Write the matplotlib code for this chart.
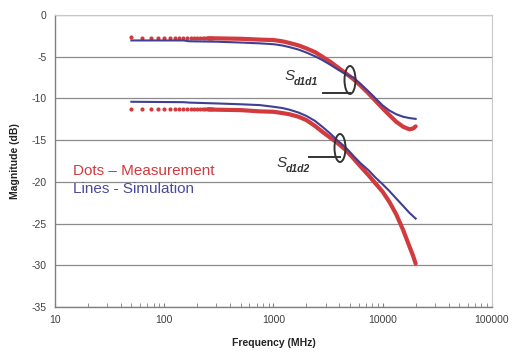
import numpy as np
import matplotlib
matplotlib.use("Agg")
import matplotlib.pyplot as plt
from matplotlib.patches import Ellipse

plt.rcParams['font.family'] = ['Liberation Sans', 'DejaVu Sans']
plt.rcParams['axes.unicode_minus'] = False

# measurement: low-frequency sweep points (visible as separate dots)
dot_freq = [50, 62.5, 75, 87.5, 100, 112.5, 125, 137.5, 150, 162.5, 175, 187.5,
            200, 212.5, 225, 237.5, 250, 262.5, 275]
s11_dots = [-2.65, -2.75, -2.75, -2.7, -2.75, -2.75, -2.75, -2.75, -2.8, -2.8,
            -2.8, -2.8, -2.8, -2.8, -2.8, -2.8, -2.8, -2.8, -2.8]
s12_dots = [-11.3, -11.3, -11.3, -11.3, -11.3, -11.3, -11.3, -11.3, -11.3, -11.3,
            -11.3, -11.3, -11.3, -11.3, -11.3, -11.3, -11.3, -11.3, -11.3]

# measurement (dense part, dots merge into a thick trace)
freq = [250, 300, 500, 750, 1000, 1200, 1400, 1700, 2000, 2400, 2800, 3300, 3900,
        4600, 5400, 6300, 7400, 8600, 10000, 11500, 13300, 15400, 17500, 19000, 20000]
s11_meas = [-2.8, -2.8, -2.85, -2.95, -3.0, -3.15, -3.35, -3.65, -4.0, -4.45, -5.0,
            -5.6, -6.3, -7.0, -7.7, -8.5, -9.4, -10.3, -11.2, -12.0, -12.8, -13.4,
            -13.7, -13.6, -13.35]
s12_meas = [-11.3, -11.35, -11.4, -11.55, -11.6, -11.75, -11.9, -12.2, -12.6, -13.3,
            -14.0, -14.7, -15.4, -16.2, -17.2, -18.2, -19.2, -20.2, -21.2, -22.4,
            -23.9, -25.8, -27.7, -28.9, -29.8]

# simulation
sim_freq = [50, 150, 170, 300, 500, 750, 1000, 1200, 1400, 1700, 2000, 2400, 2800,
            3300, 3900, 4600, 5400, 6300, 7400, 8600, 10000, 11500, 13300, 15400,
            17500, 20000]
s11_sim = [-3.05, -3.05, -3.15, -3.2, -3.3, -3.4, -3.5, -3.65, -3.85, -4.15, -4.5,
           -4.95, -5.4, -5.95, -6.55, -7.1, -7.5, -8.3, -9.15, -10.0, -10.85, -11.45,
           -11.9, -12.2, -12.35, -12.45]
s12_sim = [-10.4, -10.45, -10.5, -10.6, -10.7, -10.8, -11.0, -11.15, -11.35, -11.7,
           -12.1, -12.7, -13.4, -14.2, -15.1, -15.9, -16.9, -17.8, -18.6, -19.5,
           -20.3, -21.1, -22.0, -22.9, -23.7, -24.4]

red = '#d23a3e'
blue = '#3f3f94'

fig = plt.figure(figsize=(5.16, 3.54), dpi=100)
ax = fig.add_axes([55 / 516, 47 / 354, 437 / 516, 292 / 354])

ax.plot(freq, s11_meas, color=red, lw=3.0, solid_capstyle='round', zorder=2)
ax.plot(freq, s12_meas, color=red, lw=3.0, solid_capstyle='round', zorder=2)
ax.plot(dot_freq, s11_dots, 'o', color=red, ms=3.0, mew=0, zorder=2)
ax.plot(dot_freq, s12_dots, 'o', color=red, ms=3.0, mew=0, zorder=2)

ax.plot(sim_freq, s11_sim, color=blue, lw=1.5, zorder=3)
ax.plot(sim_freq, s12_sim, color=blue, lw=1.5, zorder=3)

ax.set_xscale('log')
ax.set_xlim(10, 100000)
ax.set_ylim(-35, 0)
ax.set_yticks(np.arange(-35, 1, 5))
ax.set_xticks([10, 100, 1000, 10000, 100000])
ax.set_xticklabels(['10', '100', '1000', '10000', '100000'])
ax.yaxis.grid(True, color='#8c8c8c', lw=0.9)
ax.set_axisbelow(True)

for s in ['top', 'right']:
    ax.spines[s].set_color('#c8c8c8')
    ax.spines[s].set_linewidth(0.8)
for s in ['left', 'bottom']:
    ax.spines[s].set_color('#808080')
    ax.spines[s].set_linewidth(1.0)

ax.tick_params(axis='x', which='both', direction='in', length=3, color='#808080',
               labelsize=7.5, labelcolor='#404040', pad=6)
ax.tick_params(axis='y', length=0, labelsize=7.5, labelcolor='#404040', pad=6)

ax.set_xlabel('Frequency (MHz)', fontsize=7.5, fontweight='bold', color='#222222', labelpad=9)
ax.set_ylabel('Magnitude (dB)', fontsize=7.5, fontweight='bold', color='#222222', labelpad=8)

ax.text(0.041, 0.466, 'Dots \u2013 Measurement', transform=ax.transAxes, color=red,
        fontsize=11, va='center')
ax.text(0.041, 0.404, 'Lines - Simulation', transform=ax.transAxes, color='#4a4a9c',
        fontsize=11, va='center')

# annotations: S_d1d1 and S_d1d2
ann = '#333333'
for cx, cy, lx0, ly, tx, ty, sub in [(350, 80, 323, 93, 285, 76, 'd1d1'),
                                     (340, 148, 309, 157, 277, 163, 'd1d2')]:
    ax.add_patch(Ellipse(((cx - 55) / 437, (307 - cy) / 292), 11 / 437, 28 / 292,
                         transform=ax.transAxes, fill=False, ec=ann, lw=1.4, zorder=5))
    ax.plot([(lx0 - 55) / 437, (cx - 55) / 437], [(307 - ly) / 292] * 2,
            transform=ax.transAxes, color=ann, lw=1.4, zorder=5)
    ax.text((tx - 55) / 437, (307 - ty) / 292, 'S', transform=ax.transAxes, color=ann,
            fontsize=11, fontstyle='italic', va='center')
    ax.text((tx + 9 - 55) / 437, (307 - ty - 6) / 292, sub, transform=ax.transAxes,
            color=ann, fontsize=7.5, fontstyle='italic', fontweight='bold', va='center')

fig.savefig('out.png', dpi=100, facecolor='white')
